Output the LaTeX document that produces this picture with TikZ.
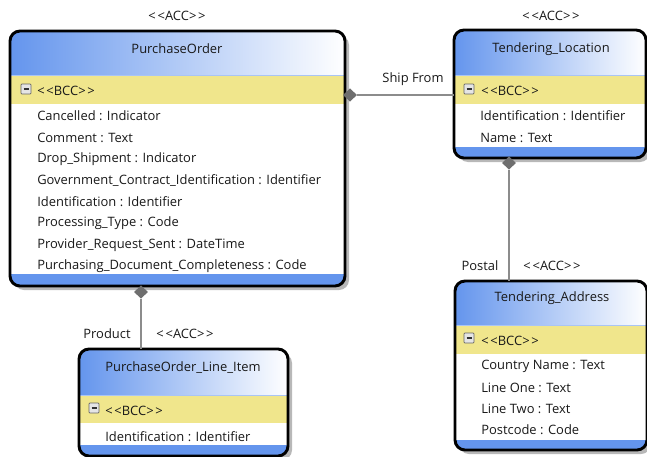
\documentclass[tikz,border=0pt]{standalone}
\usepackage{fontspec}
\setmainfont{Open Sans}[Ligatures=TeXOff]
\usetikzlibrary{fit,shapes.geometric}
\definecolor{hdrblue}{HTML}{6495ED}
\definecolor{bccyel}{HTML}{F0E68C}
\definecolor{linegrey}{HTML}{8C8C8C}
\definecolor{diagrey}{HTML}{6E6E6E}
\newcommand\stereo[1]{<\kern1.3pt<#1>\kern1.3pt>}
\tikzset{
  lbl/.style={font=\fontsize{9.7}{11}\selectfont, inner sep=0pt, text=black!90, yshift=-0.75pt},
  attr/.style={lbl, anchor=west},
  boxframe/.style={draw=black, line width=2.2pt, rounded corners=7.5pt},
  conn/.style={draw=linegrey, line width=1.1pt},
  agg/.style={diamond, fill=diagrey, inner sep=0pt, minimum width=10.5pt, minimum height=10pt}
}
\newcommand\umlbox[8]{%
  \fill[black!28, rounded corners=7.5pt] (#2+4,#3+4) rectangle (#4+4,#5+4);
  \begin{scope}
    \clip[rounded corners=7.5pt] (#2,#3) rectangle (#4,#5);
    \fill[white] (#2,#3) rectangle (#4,#5);
    \shade[left color=hdrblue, right color=white, middle color=hdrblue!50] (#2,#3) rectangle (#4,#6);
    \fill[bccyel] (#2,#6) rectangle (#4,#7);
    \draw[hdrblue!55, line width=0.75pt] (#2,#6) -- (#4,#6);
    \fill[hdrblue] (#2,#8) rectangle (#4,#5);
  \end{scope}
  \draw[boxframe] (#2,#3) rectangle (#4,#5);
  \node[fit={(#2,#3) (#4,#5)}, inner sep=0pt] (#1) {};
}
\newcommand\minusicon[2]{%
  \draw[gray!80!black, fill=gray!20, line width=0.5pt, rounded corners=0.6pt] (#1,#2) rectangle (#1+10,#2+10);
  \draw[gray!40!black, line width=1.4pt] (#1+2.5,#2+5) -- (#1+7.5,#2+5);
}
\begin{document}
\begin{tikzpicture}[x=0.75pt,y=-0.75pt]
\useasboundingbox (0,0) rectangle (647,457);
\fill[white] (0,0) rectangle (647,457);

% PurchaseOrder
\umlbox{po}{10}{31}{345}{286}{75}{104}{274}
\minusicon{21}{84}
\node[lbl] (poacc) at (177,15) {\stereo{ACC}};
\node[lbl] (potitle) at (177,48) {PurchaseOrder};
\node[attr] (pobcc) at (37,90) {\stereo{BCC}};
\node[attr] (poa1) at (37,115) {Cancelled : Indicator};
\node[attr] (poa2) at (37,137) {Comment : Text};
\node[attr] (poa3) at (37,158) {Drop\_Shipment : Indicator};
\node[attr] (poa4) at (37,180) {Government\_Contract\_Identification : Identifier};
\node[attr] (poa5) at (37,201) {Identification : Identifier};
\node[attr] (poa6) at (37,222) {Processing\_Type : Code};
\node[attr] (poa7) at (37,244) {Provider\_Request\_Sent : DateTime};
\node[attr] (poa8) at (37,265) {Purchasing\_Document\_Completeness : Code};

% Tendering_Location
\umlbox{tl}{454}{30}{646}{158}{75}{104}{147}
\minusicon{464}{84}
\node[lbl] (tlacc) at (551,15) {\stereo{ACC}};
\node[lbl] (tltitle) at (551,48) {Tendering\_Location};
\node[attr] (tlbcc) at (481,90) {\stereo{BCC}};
\node[attr] (tla1) at (480,115) {Identification : Identifier};
\node[attr] (tla2) at (480,137) {Name : Text};

% Tendering_Address
\umlbox{ta}{455}{281}{647}{450}{325}{354}{440}
\minusicon{464}{333}
\node[lbl] (taacc) at (552,265) {\stereo{ACC}};
\node[lbl] (tatitle) at (552,297) {Tendering\_Address};
\node[attr] (tabcc) at (481,340) {\stereo{BCC}};
\node[attr] (taa1) at (481,365) {Country Name : Text};
\node[attr] (taa2) at (481,387) {Line One : Text};
\node[attr] (taa3) at (481,408) {Line Two : Text};
\node[attr] (taa4) at (481,429) {Postcode : Code};

% PurchaseOrder_Line_Item
\umlbox{li}{79}{349}{288}{456}{395}{423}{445}
\minusicon{89}{403}
\node[lbl] (liacc) at (185,333) {\stereo{ACC}};
\node[lbl] (lititle) at (183,367) {PurchaseOrder\_Line\_Item};
\node[attr] (libcc) at (105,410) {\stereo{BCC}};
\node[attr] (lia1) at (105,436) {Identification : Identifier};

% connectors
\node[agg] (d1) at (350,95) {};
\draw[conn] (d1.east) -- (d1.east -| tl.west);
\node[lbl] (shipfrom) at (413,78) {Ship From};

\node[agg] (d2) at (509,163) {};
\draw[conn] (d2.south) -- (d2.south |- ta.north);
\node[lbl] (postal) at (480,265) {Postal};

\node[agg] (d3) at (141,292) {};
\draw[conn] (d3.south) -- (d3.south |- li.north);
\node[lbl] (product) at (107,333) {Product};
\end{tikzpicture}
\end{document}
